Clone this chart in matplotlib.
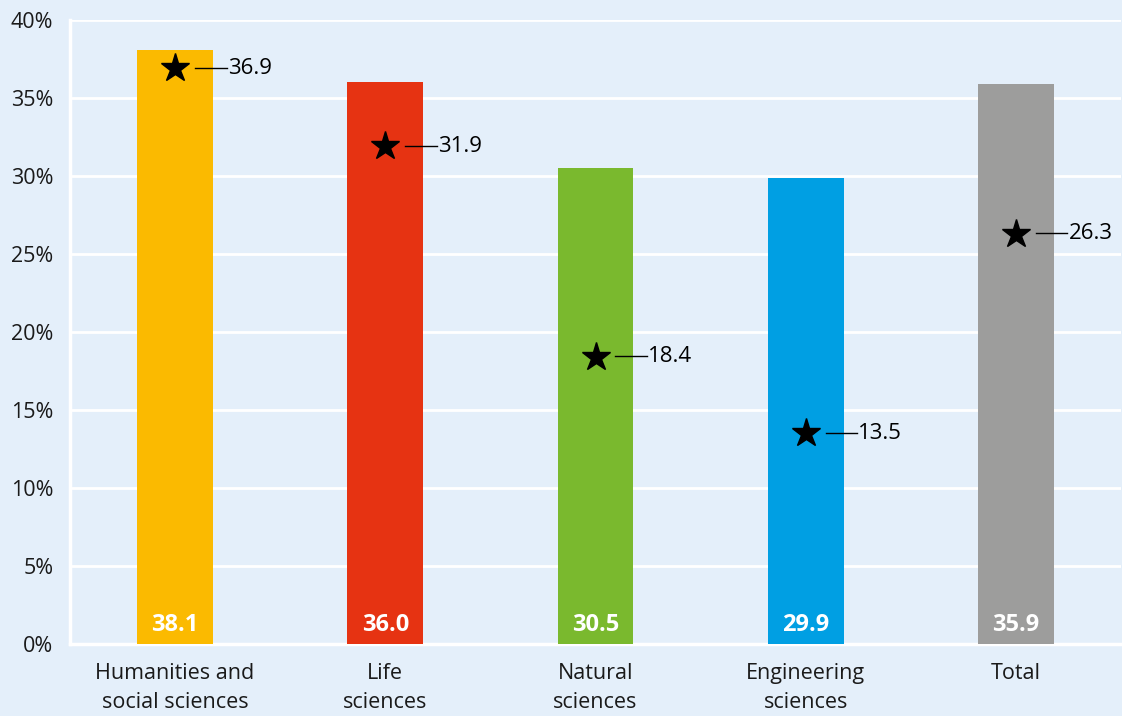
import matplotlib
matplotlib.use("Agg")
import matplotlib.pyplot as plt
from matplotlib.ticker import FuncFormatter

plt.rcParams['font.family'] = ['Open Sans', 'DejaVu Sans']

categories = ["Humanities and\nsocial sciences", "Life\nsciences", "Natural\nsciences",
              "Engineering\nsciences", "Total"]
bar_values = [38.1, 36.0, 30.5, 29.9, 35.9]
star_values = [36.9, 31.9, 18.4, 13.5, 26.3]
bar_colors = ["#FBBA00", "#E63312", "#7AB92E", "#009FE3", "#9D9D9C"]
y_ticks = [0, 5, 10, 15, 20, 25, 30, 35, 40]

bg = "#E4EFFA"
fig = plt.figure(figsize=(11.22, 7.16), dpi=100, facecolor=bg)
ax = fig.add_axes([70 / 1122, 1 - 644 / 716, 1051 / 1122, 624 / 716], facecolor=bg)

x = list(range(len(categories)))
ax.bar(x, bar_values, width=0.36, color=bar_colors, zorder=3)

ax.set_xlim(-0.5, len(categories) - 0.5)
ax.set_ylim(0, 40)
ax.set_yticks(y_ticks)
ax.yaxis.set_major_formatter(FuncFormatter(lambda v, p: f"{v:.0f}%"))
ax.grid(axis='y', color='white', linewidth=2, zorder=1)
ax.set_axisbelow(True)

for side in ['top', 'right']:
    ax.spines[side].set_visible(False)
for side in ['left', 'bottom']:
    ax.spines[side].set_color('white')
    ax.spines[side].set_linewidth(2.5)

ax.tick_params(axis='both', length=0, labelsize=15.5, colors='#1a1a1a')
ax.tick_params(axis='y', pad=12)
ax.tick_params(axis='x', pad=14)
ax.set_xticks(x)
ax.set_xticklabels(categories, linespacing=1.45)

for xi, bv, sv in zip(x, bar_values, star_values):
    # value of the bar, in white at its foot
    ax.text(xi, 0.45, f"{bv:.1f}", ha='center', va='bottom', color='white',
            fontsize=17, fontweight='bold', zorder=5)
    # star marker with its leader line and label
    ax.plot(xi, sv, marker='*', color='black', markersize=21, zorder=5, linestyle='none')
    ax.plot([xi + 0.095, xi + 0.245], [sv + 0.05, sv + 0.05], color='black', linewidth=1, zorder=5)
    ax.text(xi + 0.25, sv + 0.0, f"{sv:.1f}", ha='left', va='center', color='black',
            fontsize=16, zorder=5)

fig.savefig("out.png", dpi=100, facecolor=bg)
